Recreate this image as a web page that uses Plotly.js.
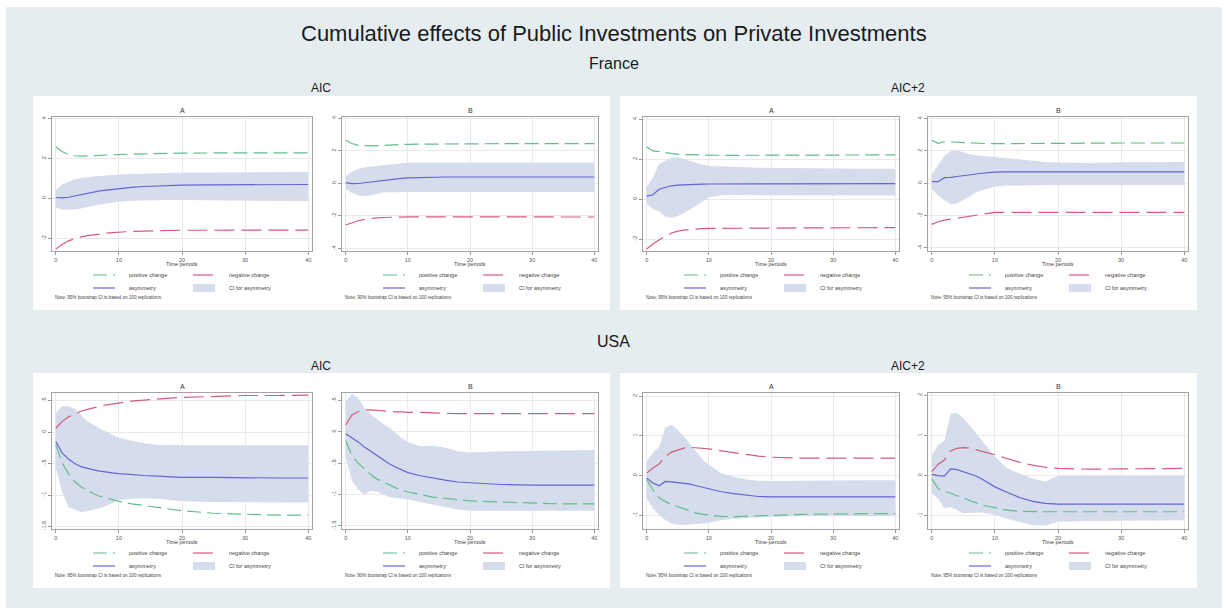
<!DOCTYPE html>
<html>
<head>
<meta charset="utf-8">
<script src="https://cdn.plot.ly/plotly-3.0.1.min.js"></script>
<style>
  html, body { margin: 0; padding: 0; background: #ffffff; }
  #chart { width: 1226px; height: 613px; }
</style>
</head>
<body>
<div id="chart"></div>
<script>
// Horizon (time periods) at which the cumulative multipliers are reported
const periods = [0,1,2,3,4,5,6,7,8,9,10,12,14,16,18,20,25,30,35,40];

// ---- France, AIC lag selection, panel A ----
const frAicA_pos  = [2.58,2.35,2.2,2.14,2.12,2.12,2.14,2.16,2.18,2.19,2.2,2.22,2.24,2.25,2.26,2.27,2.28,2.28,2.28,2.28];
const frAicA_neg  = [-2.53,-2.3,-2.12,-2.0,-1.92,-1.86,-1.81,-1.77,-1.74,-1.71,-1.68,-1.65,-1.63,-1.61,-1.6,-1.59,-1.59,-1.58,-1.58,-1.58];
const frAicA_asym = [0.05,0.03,0.06,0.13,0.2,0.27,0.33,0.38,0.42,0.46,0.5,0.56,0.6,0.63,0.65,0.67,0.68,0.69,0.7,0.7];
const frAicA_lo   = [-0.47,-0.55,-0.56,-0.55,-0.5,-0.42,-0.37,-0.32,-0.27,-0.22,-0.17,-0.12,-0.1,-0.08,-0.08,-0.08,-0.1,-0.12,-0.13,-0.13];
const frAicA_hi   = [0.42,0.7,0.85,0.96,1.02,1.07,1.1,1.13,1.16,1.18,1.2,1.23,1.25,1.27,1.28,1.29,1.3,1.31,1.32,1.33];

// ---- France, AIC, panel B ----
const frAicB_pos  = [2.65,2.45,2.34,2.3,2.3,2.32,2.34,2.36,2.38,2.39,2.4,2.41,2.42,2.43,2.43,2.44,2.44,2.44,2.44,2.44];
const frAicB_neg  = [-2.56,-2.42,-2.3,-2.22,-2.16,-2.12,-2.1,-2.08,-2.07,-2.07,-2.06,-2.06,-2.06,-2.06,-2.06,-2.06,-2.06,-2.07,-2.07,-2.07];
const frAicB_asym = [0.04,-0.02,-0.01,0.04,0.1,0.15,0.2,0.24,0.28,0.31,0.34,0.37,0.38,0.39,0.39,0.39,0.39,0.39,0.39,0.39];
const frAicB_lo   = [-0.37,-0.6,-0.75,-0.8,-0.75,-0.65,-0.57,-0.55,-0.54,-0.53,-0.53,-0.53,-0.53,-0.53,-0.53,-0.53,-0.53,-0.53,-0.53,-0.53];
const frAicB_hi   = [0.45,0.7,0.88,0.98,1.03,1.08,1.12,1.15,1.19,1.23,1.26,1.27,1.27,1.27,1.27,1.27,1.27,1.27,1.27,1.27];

// ---- France, AIC+2, panel A ----
const frAic2A_pos  = [2.62,2.42,2.38,2.33,2.28,2.25,2.23,2.22,2.21,2.2,2.2,2.2,2.2,2.2,2.2,2.2,2.21,2.21,2.22,2.22];
const frAic2A_neg  = [-2.5,-2.25,-2.05,-1.85,-1.7,-1.6,-1.55,-1.52,-1.5,-1.48,-1.47,-1.46,-1.45,-1.45,-1.45,-1.45,-1.44,-1.44,-1.43,-1.43];
const frAic2A_asym = [0.15,0.22,0.5,0.6,0.67,0.7,0.72,0.73,0.74,0.75,0.76,0.76,0.77,0.77,0.77,0.77,0.78,0.78,0.78,0.78];
const frAic2A_lo   = [-0.22,-0.5,-0.62,-0.88,-0.93,-0.85,-0.7,-0.52,-0.33,-0.1,0.08,0.2,0.22,0.22,0.2,0.2,0.2,0.2,0.18,0.18];
const frAic2A_hi   = [0.62,1.1,1.78,1.95,2.08,2.1,2.0,1.92,1.83,1.72,1.66,1.65,1.63,1.6,1.58,1.57,1.56,1.55,1.52,1.52];

// ---- France, AIC+2, panel B ----
const frAic2B_pos  = [2.66,2.47,2.57,2.55,2.52,2.5,2.48,2.46,2.45,2.45,2.45,2.46,2.47,2.47,2.48,2.48,2.48,2.49,2.49,2.49];
const frAic2B_neg  = [-2.54,-2.38,-2.28,-2.22,-2.15,-2.08,-2.0,-1.94,-1.88,-1.83,-1.8,-1.8,-1.8,-1.8,-1.8,-1.8,-1.8,-1.8,-1.8,-1.8];
const frAic2B_asym = [0.1,0.1,0.35,0.36,0.42,0.48,0.53,0.58,0.62,0.66,0.69,0.7,0.7,0.7,0.7,0.7,0.7,0.7,0.7,0.7];
const frAic2B_lo   = [-0.37,-0.75,-1.05,-1.3,-1.25,-1.05,-0.82,-0.55,-0.42,-0.3,-0.2,-0.14,-0.12,-0.1,-0.1,-0.1,-0.1,-0.1,-0.1,-0.1];
const frAic2B_hi   = [0.56,1.15,1.69,2.0,2.04,1.92,1.8,1.74,1.7,1.65,1.6,1.55,1.45,1.38,1.32,1.28,1.26,1.3,1.32,1.32];

// ---- USA, AIC, panel A ----
const usAicA_pos  = [-0.2,-0.49,-0.66,-0.79,-0.87,-0.93,-0.98,-1.02,-1.05,-1.08,-1.1,-1.14,-1.17,-1.2,-1.23,-1.25,-1.29,-1.31,-1.32,-1.32];
const usAicA_neg  = [0.06,0.17,0.24,0.29,0.33,0.36,0.39,0.41,0.43,0.45,0.46,0.49,0.51,0.53,0.54,0.55,0.57,0.58,0.58,0.585];
const usAicA_asym = [-0.15,-0.33,-0.43,-0.5,-0.55,-0.58,-0.6,-0.62,-0.64,-0.65,-0.66,-0.68,-0.69,-0.7,-0.71,-0.72,-0.72,-0.73,-0.73,-0.73];
const usAicA_lo   = [-0.57,-0.95,-1.19,-1.23,-1.27,-1.26,-1.24,-1.21,-1.17,-1.12,-1.08,-1.06,-1.05,-1.06,-1.08,-1.1,-1.11,-1.11,-1.12,-1.12];
const usAicA_hi   = [0.3,0.41,0.41,0.37,0.27,0.17,0.11,0.05,0.0,-0.05,-0.09,-0.14,-0.18,-0.2,-0.21,-0.21,-0.21,-0.21,-0.21,-0.21];

// ---- USA, AIC, panel B ----
const usAicB_pos  = [-0.14,-0.38,-0.5,-0.59,-0.68,-0.75,-0.8,-0.85,-0.89,-0.93,-0.96,-1.0,-1.04,-1.06,-1.08,-1.1,-1.12,-1.14,-1.15,-1.15];
const usAicB_neg  = [0.11,0.27,0.32,0.35,0.35,0.34,0.34,0.33,0.32,0.32,0.31,0.31,0.3,0.3,0.29,0.29,0.29,0.29,0.29,0.29];
const usAicB_asym = [-0.03,-0.09,-0.16,-0.24,-0.31,-0.38,-0.45,-0.51,-0.56,-0.61,-0.65,-0.7,-0.74,-0.77,-0.8,-0.81,-0.84,-0.85,-0.85,-0.85];
const usAicB_lo   = [-0.41,-0.78,-0.92,-1.0,-0.94,-0.95,-1.0,-1.04,-1.05,-1.06,-1.08,-1.12,-1.16,-1.2,-1.24,-1.26,-1.26,-1.26,-1.26,-1.26];
const usAicB_hi   = [0.49,0.61,0.54,0.38,0.28,0.2,0.13,0.07,-0.02,-0.1,-0.16,-0.23,-0.22,-0.25,-0.31,-0.33,-0.31,-0.3,-0.29,-0.29];

// ---- USA, AIC+2, panel A ----
const usAic2A_pos  = [-0.11,-0.36,-0.56,-0.66,-0.73,-0.79,-0.85,-0.9,-0.95,-0.98,-1.0,-1.03,-1.04,-1.03,-1.01,-1.0,-0.98,-0.97,-0.96,-0.96];
const usAic2A_neg  = [0.06,0.19,0.29,0.48,0.59,0.65,0.69,0.71,0.7,0.68,0.67,0.62,0.57,0.53,0.49,0.46,0.44,0.44,0.44,0.44];
const usAic2A_asym = [-0.07,-0.19,-0.26,-0.15,-0.16,-0.18,-0.2,-0.22,-0.26,-0.3,-0.34,-0.41,-0.46,-0.5,-0.53,-0.54,-0.54,-0.54,-0.54,-0.54];
const usAic2A_lo   = [-0.57,-0.83,-1.0,-1.12,-1.21,-1.24,-1.25,-1.24,-1.22,-1.21,-1.19,-1.13,-1.09,-1.07,-1.05,-1.04,-1.03,-1.02,-1.02,-1.02];
const usAic2A_hi   = [0.35,0.57,0.73,1.21,1.28,1.15,0.98,0.78,0.58,0.4,0.27,0.06,-0.04,-0.1,-0.13,-0.14,-0.13,-0.12,-0.12,-0.12];

// ---- USA, AIC+2, panel B ----
const usAic2B_pos  = [-0.08,-0.32,-0.4,-0.44,-0.5,-0.55,-0.62,-0.68,-0.73,-0.77,-0.8,-0.86,-0.89,-0.9,-0.9,-0.9,-0.9,-0.9,-0.9,-0.9];
const usAic2B_neg  = [0.1,0.28,0.39,0.62,0.68,0.7,0.69,0.65,0.6,0.56,0.52,0.42,0.33,0.26,0.21,0.18,0.16,0.17,0.18,0.18];
const usAic2B_asym = [0.03,0.0,-0.01,0.17,0.15,0.1,0.05,-0.01,-0.09,-0.18,-0.28,-0.42,-0.55,-0.64,-0.69,-0.71,-0.71,-0.71,-0.71,-0.71];
const usAic2B_lo   = [-0.44,-0.57,-0.82,-0.78,-0.86,-0.94,-0.93,-0.92,-0.92,-0.95,-0.98,-1.08,-1.16,-1.23,-1.24,-1.15,-1.13,-1.12,-1.11,-1.11];
const usAic2B_hi   = [0.5,0.77,0.87,1.54,1.56,1.43,1.25,1.06,0.87,0.68,0.48,0.18,0.05,-0.08,-0.15,0.0,0.0,0.0,0.0,0.0];

// Axis ticks and labels
const timeTicks   = [0,10,20,30,40];
const frTicks4    = [-2,0,2,4];
const frLabels4   = ['-2','0','2','4'];
const frTicks5    = [-4,-2,0,2,4];
const frLabels5   = ['-4','-2','0','2','4'];
const usTicksAic  = [-1.5,-1,-0.5,0,0.5];
const usLabelsAic = ['-1.5','-1','-.5','0','.5'];
const usTicksAic2 = [-1,0,1,2];
const usLabelsAic2= ['-1','0','1','2'];

// Texts
const mainTitle   = 'Cumulative effects of Public Investments on Private Investments';
const countries   = ['France', 'USA'];
const lagModels   = ['AIC', 'AIC+2'];
const legendNames = ['positive change', 'negative change', 'asymmetry', 'CI for asymmetry'];
const note95 = 'Note: 95% bootstrap CI is based on 100 replications';
const note90 = 'Note: 90% bootstrap CI is based on 100 replications';

// ---------------------------------------------------------------------
const W = 1226, H = 613;
const px = x => x / W;
const py = y => 1 - y / H;

const FONT = 'Liberation Sans, Arial, Helvetica, sans-serif';
const C_POS = 'rgb(96,190,140)';
const C_NEG = 'rgb(212,92,124)';
const C_ASY = 'rgb(100,100,212)';
const C_CI  = 'rgb(213,220,235)';
const DASH_POS = '14px,6px';
const DASH_NEG = '20px,7px';

// plot-area pixel boxes: columns (left,right) and rows (top,bottom)
const cols = [[52,312],[342,598],[643,899],[928,1188]];
const rows = [[117,251],[393,529]];

const panels = [
  {r:0,c:0,t:'A',pos:frAicA_pos, neg:frAicA_neg, asym:frAicA_asym, lo:frAicA_lo, hi:frAicA_hi, yr:[-2.63,4.08], tv:frTicks4, tt:frLabels4, note:note95},
  {r:0,c:1,t:'B',pos:frAicB_pos, neg:frAicB_neg, asym:frAicB_asym, lo:frAicB_lo, hi:frAicB_hi, yr:[-4.16,4.08], tv:frTicks5, tt:frLabels5, note:note90},
  {r:0,c:2,t:'A',pos:frAic2A_pos,neg:frAic2A_neg,asym:frAic2A_asym,lo:frAic2A_lo,hi:frAic2A_hi,yr:[-2.6,4.12],  tv:frTicks4, tt:frLabels4, note:note95},
  {r:0,c:3,t:'B',pos:frAic2B_pos,neg:frAic2B_neg,asym:frAic2B_asym,lo:frAic2B_lo,hi:frAic2B_hi,yr:[-4.19,4.1],  tv:frTicks5, tt:frLabels5, note:note95},
  {r:1,c:0,t:'A',pos:usAicA_pos, neg:usAicA_neg, asym:usAicA_asym, lo:usAicA_lo, hi:usAicA_hi, yr:[-1.54,0.62], tv:usTicksAic, tt:usLabelsAic, note:note95},
  {r:1,c:1,t:'B',pos:usAicB_pos, neg:usAicB_neg, asym:usAicB_asym, lo:usAicB_lo, hi:usAicB_hi, yr:[-1.55,0.62], tv:usTicksAic, tt:usLabelsAic, note:note90},
  {r:1,c:2,t:'A',pos:usAic2A_pos,neg:usAic2A_neg,asym:usAic2A_asym,lo:usAic2A_lo,hi:usAic2A_hi,yr:[-1.35,2.08], tv:usTicksAic2, tt:usLabelsAic2, note:note95},
  {r:1,c:3,t:'B',pos:usAic2B_pos,neg:usAic2B_neg,asym:usAic2B_asym,lo:usAic2B_lo,hi:usAic2B_hi,yr:[-1.33,2.06], tv:usTicksAic2, tt:usLabelsAic2, note:note95}
];

const data = [];
const shapes = [];
const annotations = [];
const layout = {
  width: W, height: H,
  margin: {l:0, r:0, t:0, b:0},
  paper_bgcolor: '#ffffff',
  plot_bgcolor: '#ffffff',
  showlegend: false,
  font: {family: FONT, color: '#333'},
  shapes: shapes,
  annotations: annotations
};

// outer light background and white panel cards
shapes.push({type:'rect', xref:'paper', yref:'paper', x0:px(6), x1:px(1222), y0:py(608), y1:py(7),
  fillcolor:'#e5edf0', line:{width:0}, layer:'below'});
const cards = [[33,610,96,310],[620,1197,96,310],[33,610,373,588],[620,1197,373,588]];
cards.forEach(([x0,x1,y0,y1]) => shapes.push({type:'rect', xref:'paper', yref:'paper',
  x0:px(x0), x1:px(x1), y0:py(y1), y1:py(y0), fillcolor:'#ffffff', line:{width:0}, layer:'below'}));

// headings
annotations.push({text: mainTitle, xref:'paper', yref:'paper', x:px(614), y:py(33), showarrow:false,
  xanchor:'center', yanchor:'middle', font:{size:22, color:'#1a1a1a', family:FONT}});
[64, 341].forEach((yy, i) => annotations.push({text: countries[i], xref:'paper', yref:'paper', x:px(614), y:py(yy),
  showarrow:false, xanchor:'center', yanchor:'middle', font:{size:16, color:'#1a1a1a', family:FONT}}));
[88, 366].forEach(yy => {
  annotations.push({text: lagModels[0], xref:'paper', yref:'paper', x:px(321), y:py(yy), showarrow:false,
    xanchor:'center', yanchor:'middle', font:{size:12, color:'#1a1a1a', family:FONT}});
  annotations.push({text: lagModels[1], xref:'paper', yref:'paper', x:px(908), y:py(yy), showarrow:false,
    xanchor:'center', yanchor:'middle', font:{size:12, color:'#1a1a1a', family:FONT}});
});

panels.forEach((p, i) => {
  const n = i + 1;
  const xa = n === 1 ? 'x' : 'x' + n;
  const ya = n === 1 ? 'y' : 'y' + n;
  const [L, R] = cols[p.c];
  const [T, B] = rows[p.r];

  layout[n === 1 ? 'xaxis' : 'xaxis' + n] = {
    domain: [px(L), px(R)], anchor: ya, range: [-0.6, 40.6],
    tickmode: 'array', tickvals: timeTicks, ticks: 'outside', ticklen: 3, tickwidth: 1, tickcolor: '#999',
    tickfont: {size: 5.5, color: '#555', family: FONT},
    showgrid: true, gridcolor: '#e9e9e9', gridwidth: 1, zeroline: false,
    showline: true, mirror: true, linecolor: '#a3a3a3', linewidth: 1.2, fixedrange: true
  };
  layout[n === 1 ? 'yaxis' : 'yaxis' + n] = {
    domain: [py(B), py(T)], anchor: xa, range: p.yr,
    tickmode: 'array', tickvals: p.tv, ticktext: p.tt, tickangle: -90,
    ticks: 'outside', ticklen: 3, tickwidth: 1, tickcolor: '#999',
    tickfont: {size: 5.5, color: '#555', family: FONT},
    showgrid: true, gridcolor: '#e9e9e9', gridwidth: 1, zeroline: false,
    showline: true, mirror: true, linecolor: '#a3a3a3', linewidth: 1.2, fixedrange: true
  };

  // confidence band
  data.push({x: periods, y: p.lo, xaxis: xa, yaxis: ya, mode: 'lines', line: {width: 0, color: C_CI}, hoverinfo: 'skip'});
  data.push({x: periods, y: p.hi, xaxis: xa, yaxis: ya, mode: 'lines', line: {width: 0, color: C_CI},
             fill: 'tonexty', fillcolor: C_CI, hoverinfo: 'skip'});
  // responses
  data.push({x: periods, y: p.pos,  xaxis: xa, yaxis: ya, mode: 'lines', line: {width: 1.2, color: C_POS, dash: DASH_POS}, name: legendNames[0]});
  data.push({x: periods, y: p.neg,  xaxis: xa, yaxis: ya, mode: 'lines', line: {width: 1.2, color: C_NEG, dash: DASH_NEG}, name: legendNames[1]});
  data.push({x: periods, y: p.asym, xaxis: xa, yaxis: ya, mode: 'lines', line: {width: 1.2, color: C_ASY}, name: legendNames[2]});

  // subplot title and x-axis title
  annotations.push({text: p.t, xref:'paper', yref:'paper', x:px((L+R)/2), y:py(T-7), showarrow:false,
    xanchor:'center', yanchor:'middle', font:{size:7, color:'#333', family:FONT}});
  annotations.push({text: 'Time periods', xref:'paper', yref:'paper', x:px((L+R)/2), y:py(B+13), showarrow:false,
    xanchor:'center', yanchor:'middle', font:{size:5.5, color:'#444', family:FONT}});

  // legend block
  const r1 = B + 24, r2 = B + 37;
  shapes.push({type:'line', xref:'paper', yref:'paper', x0:px(L+41), x1:px(L+63), y0:py(r1), y1:py(r1),
    line:{color:C_POS, width:1.2, dash:DASH_POS}});
  shapes.push({type:'line', xref:'paper', yref:'paper', x0:px(L+141), x1:px(L+163), y0:py(r1), y1:py(r1),
    line:{color:C_NEG, width:1.2, dash:DASH_NEG}});
  shapes.push({type:'line', xref:'paper', yref:'paper', x0:px(L+41), x1:px(L+63), y0:py(r2), y1:py(r2),
    line:{color:C_ASY, width:1.2}});
  shapes.push({type:'rect', xref:'paper', yref:'paper', x0:px(L+141), x1:px(L+163), y0:py(r2+4), y1:py(r2-4),
    fillcolor:C_CI, line:{width:0}});
  [[legendNames[0], L+75, r1], [legendNames[1], L+175, r1], [legendNames[2], L+75, r2], [legendNames[3], L+175, r2]]
    .forEach(([txt, xx, yy]) => annotations.push({text: txt, xref:'paper', yref:'paper', x:px(xx), y:py(yy),
      showarrow:false, xanchor:'left', yanchor:'middle', font:{size:5.5, color:'#444', family:FONT}}));
  annotations.push({text: p.note, xref:'paper', yref:'paper', x:px(L+1), y:py(B+46), showarrow:false,
    xanchor:'left', yanchor:'middle', font:{size:4.6, color:'#444', family:FONT}});
});

Plotly.newPlot('chart', data, layout, {staticPlot: true, displayModeBar: false});
</script>
</body>
</html>
